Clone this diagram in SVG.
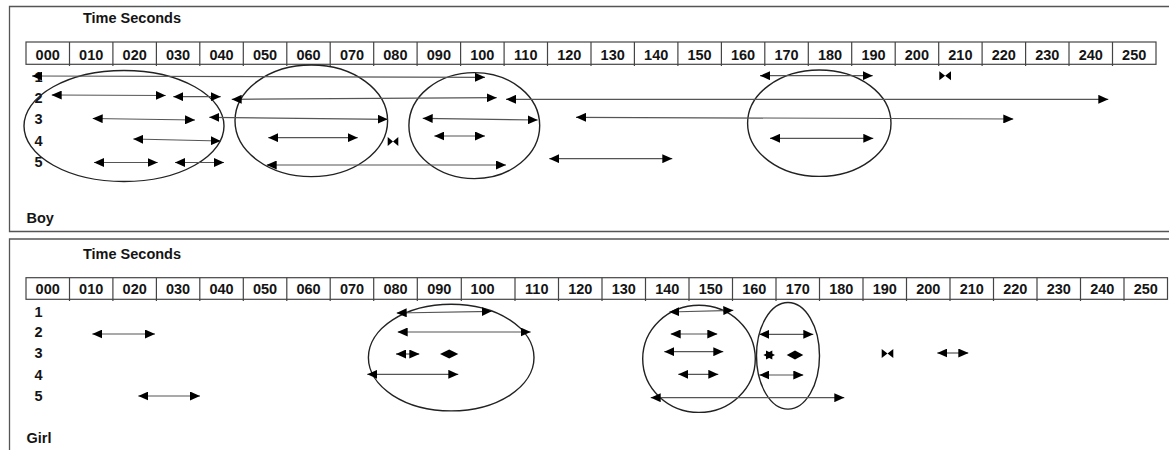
<svg xmlns="http://www.w3.org/2000/svg" width="1169" height="450" viewBox="0 0 1169 450">
<defs>
<style>
.frame{fill:none;stroke:#555;stroke-width:1.3}
.tbl{fill:none;stroke:#444;stroke-width:1.2}
.t{font-family:"Liberation Sans",Arial,sans-serif;font-weight:bold;font-size:14.5px;fill:#141414}
.hd{text-anchor:middle}
.ell{fill:none;stroke:#222;stroke-width:1.4}
.arr{fill:none;stroke:#555;stroke-width:1.2;marker-start:url(#ah);marker-end:url(#ah)}
.blk{fill:#000}
</style>
<marker id="ah" viewBox="0 0 10 9" refX="10" refY="4.5" markerWidth="10" markerHeight="9" markerUnits="userSpaceOnUse" orient="auto-start-reverse"><path d="M0,0 L10,4.5 L0,9 z" fill="#000"/></marker>
</defs>
<rect width="1169" height="450" fill="#fff"/>

<g id="panel-boy">
<path class="frame" d="M1172,6.5 H9.5 V231.5 H1172"/>
<text class="t" x="83" y="23.3">Time Seconds</text>
<g id="boy-table">
<rect class="tbl" x="26" y="42" width="1130" height="22.3"/>
<path class="tbl" d="M69.5,42V66M112.9,42V66M156.4,42V66M199.8,42V66M243.3,42V66M286.8,42V66M330.2,42V66M373.7,42V66M417.1,42V66M460.6,42V66M504.1,42V66M547.5,42V66M591,42V66M634.4,42V66M677.9,42V66M721.4,42V66M764.8,42V66M808.3,42V66M851.7,42V66M895.2,42V66M938.7,42V66M982.1,42V66M1025.6,42V66M1069,42V66M1112.5,42V66"/>
<g class="t hd">
<text x="47.7" y="60">000</text><text x="91.2" y="60">010</text><text x="134.7" y="60">020</text><text x="178.1" y="60">030</text><text x="221.6" y="60">040</text><text x="265" y="60">050</text><text x="308.5" y="60">060</text><text x="352" y="60">070</text><text x="395.4" y="60">080</text><text x="438.9" y="60">090</text><text x="482.3" y="60">100</text><text x="525.8" y="60">110</text><text x="569.3" y="60">120</text><text x="612.7" y="60">130</text><text x="656.2" y="60">140</text><text x="699.6" y="60">150</text><text x="743.1" y="60">160</text><text x="786.6" y="60">170</text><text x="830" y="60">180</text><text x="873.5" y="60">190</text><text x="916.9" y="60">200</text><text x="960.4" y="60">210</text><text x="1003.8" y="60">220</text><text x="1047.3" y="60">230</text><text x="1090.8" y="60">240</text><text x="1134.2" y="60">250</text>
</g>
</g>
<g id="boy-rows" class="t">
<text x="34.5" y="81.7">1</text><text x="34.5" y="102.7">2</text><text x="34.5" y="124">3</text><text x="34.5" y="146">4</text><text x="34.5" y="167.3">5</text>
</g>
<text id="boy-label" class="t" x="26.5" y="223">Boy</text>
<g id="boy-groups">
<ellipse id="boy-e1" class="ell" cx="124" cy="126" rx="100" ry="55.5"/>
<ellipse id="boy-e2" class="ell" cx="311.3" cy="120.8" rx="76.3" ry="55.8"/>
<ellipse id="boy-e3" class="ell" cx="474.3" cy="125.6" rx="65.4" ry="53"/>
<ellipse id="boy-e4" class="ell" cx="819.3" cy="123.2" rx="71.7" ry="53.2"/>
</g>
</g>

<g id="panel-girl">
<path class="frame" d="M1172,239 H9.5 V452"/>
<text class="t" x="83" y="259.3">Time Seconds</text>
<g id="girl-table">
<rect class="tbl" x="26" y="277.7" width="1141.5" height="21.6"/>
<path class="tbl" d="M69.5,277.7V301M112.9,277.7V301M156.4,277.7V301M199.8,277.7V301M243.3,277.7V301M286.8,277.7V301M330.2,277.7V301M373.7,277.7V301M417.3,277.7V301M461.3,277.7V301M515,277.7V301M558.5,277.7V301M602,277.7V301M645.5,277.7V301M689,277.7V301M732.5,277.7V301M776,277.7V301M819.5,277.7V301M863,277.7V301M906.5,277.7V301M950,277.7V301M993.5,277.7V301M1037,277.7V301M1080.5,277.7V301M1124,277.7V301"/>
<g class="t hd">
<text x="47.7" y="294">000</text><text x="91.2" y="294">010</text><text x="134.7" y="294">020</text><text x="178.1" y="294">030</text><text x="221.6" y="294">040</text><text x="265" y="294">050</text><text x="308.5" y="294">060</text><text x="352" y="294">070</text><text x="395.5" y="294">080</text><text x="439.3" y="294">090</text><text x="482.5" y="294">100</text><text x="536.8" y="294">110</text><text x="580.3" y="294">120</text><text x="623.8" y="294">130</text><text x="667.3" y="294">140</text><text x="710.8" y="294">150</text><text x="754.3" y="294">160</text><text x="797.8" y="294">170</text><text x="841.3" y="294">180</text><text x="884.8" y="294">190</text><text x="928.3" y="294">200</text><text x="971.8" y="294">210</text><text x="1015.3" y="294">220</text><text x="1058.8" y="294">230</text><text x="1102.3" y="294">240</text><text x="1145.8" y="294">250</text>
</g>
</g>
<g id="girl-rows" class="t">
<text x="34.5" y="317.3">1</text><text x="34.5" y="337.3">2</text><text x="34.5" y="358.3">3</text><text x="34.5" y="380">4</text><text x="34.5" y="400.7">5</text>
</g>
<text id="girl-label" class="t" x="26.5" y="442.7">Girl</text>
<g id="girl-groups">
<ellipse id="girl-e1" class="ell" cx="451.2" cy="357.6" rx="82.8" ry="53.3"/>
<ellipse id="girl-e2" class="ell" cx="699" cy="358.8" rx="56.3" ry="53.6"/>
<ellipse id="girl-e3" class="ell" cx="788" cy="355.8" rx="31.5" ry="53.3"/>
</g>
</g>

<g id="connectors">
<g id="boy-arrows">
<line class="arr" x1="32" y1="76" x2="485" y2="77.3"/>
<line class="arr" x1="760" y1="75.7" x2="872.7" y2="75.7"/>
<line class="arr" x1="51.7" y1="95" x2="165.7" y2="95.5"/>
<line class="arr" x1="173.3" y1="96.7" x2="220.7" y2="96.7"/>
<line class="arr" x1="231.7" y1="99.3" x2="496.7" y2="97.7"/>
<line class="arr" x1="506" y1="99.3" x2="1108.3" y2="99.3"/>
<line class="arr" x1="92.7" y1="118.5" x2="195" y2="120"/>
<line class="arr" x1="209.3" y1="117.3" x2="387.7" y2="119.3"/>
<line class="arr" x1="422.7" y1="118.3" x2="537.7" y2="120"/>
<line class="arr" x1="576" y1="117.3" x2="1013.3" y2="119"/>
<line class="arr" x1="133.3" y1="139" x2="220.7" y2="141"/>
<line class="arr" x1="268.3" y1="137.7" x2="357.7" y2="137.7"/>
<line class="arr" x1="434.3" y1="136" x2="485" y2="136"/>
<line class="arr" x1="770" y1="138.3" x2="873.3" y2="138.3"/>
<line class="arr" x1="94" y1="162.5" x2="157.7" y2="162.5"/>
<line class="arr" x1="175" y1="162.5" x2="224" y2="162.5"/>
<line class="arr" x1="266.7" y1="165" x2="506" y2="165"/>
<line class="arr" x1="549.3" y1="158.7" x2="672.3" y2="158.7"/>
<path class="blk" d="M387.7,137 L393,141.5 L387.7,146 z M398.3,137 L393,141.5 L398.3,146 z"/>
<path class="blk" d="M939.3,71.2 L945.1,75.7 L939.3,80.2 z M951,71.2 L945.1,75.7 L951,80.2 z"/>
</g>
<g id="girl-arrows">
<line class="arr" x1="92.3" y1="334" x2="155" y2="334"/>
<line class="arr" x1="138.3" y1="396" x2="200" y2="396"/>
<line class="arr" x1="396.7" y1="313" x2="491.7" y2="311.3"/>
<line class="arr" x1="397.7" y1="332" x2="530.7" y2="332"/>
<line class="arr" x1="396" y1="354" x2="419.3" y2="354"/>
<path class="blk" d="M440,354 L449.2,349.5 L458.3,354 L449.2,358.5 z"/>
<line class="arr" x1="367.3" y1="374.3" x2="458.3" y2="374.3"/>
<line class="arr" x1="669.3" y1="312" x2="733.3" y2="310.3"/>
<line class="arr" x1="670.7" y1="334" x2="717.3" y2="334"/>
<line class="arr" x1="664.3" y1="351.7" x2="723.3" y2="351.7"/>
<line class="arr" x1="678.3" y1="374.3" x2="718.3" y2="374.3"/>
<line class="arr" x1="650.7" y1="397.7" x2="844.3" y2="397.7"/>
<line class="arr" x1="759.3" y1="334.3" x2="813.3" y2="334.3"/>
<path class="blk" d="M763.3,355 L772.3,350.5 L772.3,359.5 z"/>
<path class="blk" d="M775,355 L766,350.5 L766,359.5 z"/>
<path class="blk" d="M786.7,355 L795,350.5 L803.3,355 L795,359.5 z"/>
<line class="arr" x1="759.3" y1="375" x2="803.3" y2="375"/>
<path class="blk" d="M881.7,349 L887.5,353.5 L881.7,358 z M893.3,349 L887.5,353.5 L893.3,358 z"/>
<line class="arr" x1="937.3" y1="353" x2="968.3" y2="353"/>
</g>
</g>
</svg>
